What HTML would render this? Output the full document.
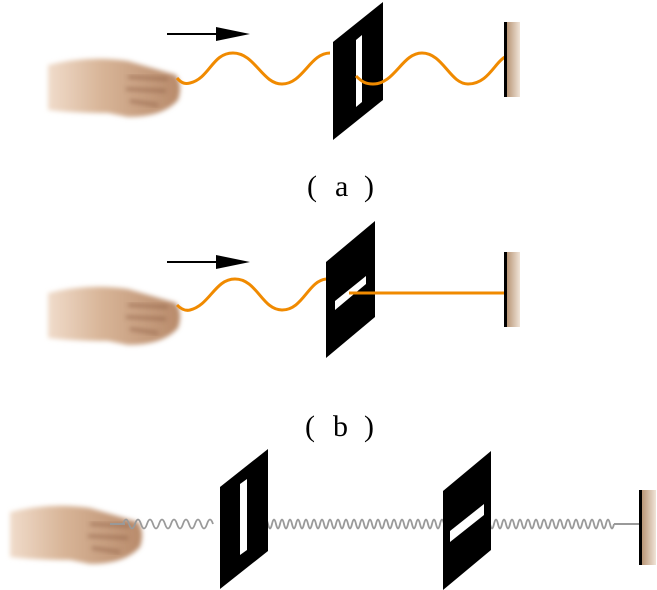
<!DOCTYPE html>
<html><head><meta charset="utf-8"><style>
html,body{margin:0;padding:0;background:#fff;width:657px;height:590px;overflow:hidden}
svg{display:block}
text{font-family:"Liberation Serif",serif}
</style></head><body>
<svg width="657" height="590" viewBox="0 0 657 590">
<defs>
<linearGradient id="wall" x1="0" x2="1"><stop offset="0" stop-color="#b08a68"/><stop offset="1" stop-color="#f0e4d8"/></linearGradient>
<linearGradient id="hand" x1="0" x2="1"><stop offset="0" stop-color="#f0dccb"/><stop offset="0.4" stop-color="#d8b598"/><stop offset="1" stop-color="#b88a6a"/></linearGradient>
<filter id="bl"><feGaussianBlur stdDeviation="2.5"/></filter>
<g id="handg">
<path d="M0,10 Q40,0 80,6 L128,20 Q135,30 130,45 Q115,62 80,62 L60,58 Q25,58 0,55 Z" fill="url(#hand)" filter="url(#bl)"/>
<path d="M80,22 L120,24 M78,34 L118,36 M82,46 L110,50" stroke="#8a5a40" stroke-width="3" opacity="0.6" filter="url(#bl)"/>
</g>
</defs>

<!-- panel a -->
<use href="#handg" x="48" y="55"/>
<line x1="167" y1="34" x2="220" y2="34" stroke="#000" stroke-width="2"/>
<polygon points="216,27 250,34 216,41" fill="#000"/>
<path d="M177,78 C182,84 186,84 190,83 C210,78 212,53 233,53 C255,53 262,84 282,84 C303,84 310,53 330,53" fill="none" stroke="#f08a00" stroke-width="3"/>
<polygon points="333,42 383,2 383,100 333,140" fill="#000"/>
<polygon points="356,40 362,35 362,102 356,107" fill="#fff"/>
<path d="M356,76 C362,82 366,84 373,84 C395,84 402,53 422,53 C443,53 450,84 468,84 C488,84 495,62 505,57" fill="none" stroke="#f08a00" stroke-width="3"/>
<rect x="505" y="22" width="15" height="75" fill="url(#wall)"/>
<rect x="504" y="22" width="3" height="75" fill="#000"/>
<g font-size="30"><text x="307" y="196">(</text><text x="335" y="196">a</text><text x="364" y="196">)</text></g>

<!-- panel b -->
<use href="#handg" x="48" y="283"/>
<line x1="167" y1="262" x2="220" y2="262" stroke="#000" stroke-width="2"/>
<polygon points="216,255 250,262 216,269" fill="#000"/>
<path d="M177,305 C182,310 186,311 190,310 C210,305 215,279 235,279 C257,279 262,310 282,310 C303,310 308,281 326,279" fill="none" stroke="#f08a00" stroke-width="3"/>
<polygon points="326,262 375,221 375,317 326,358" fill="#000"/>
<polygon points="335,301 366,276 366,284 335,310" fill="#fff"/>
<line x1="349" y1="293" x2="505" y2="293" stroke="#f08a00" stroke-width="3"/>
<rect x="505" y="252" width="15" height="75" fill="url(#wall)"/>
<rect x="504" y="252" width="3" height="75" fill="#000"/>
<g font-size="30"><text x="305" y="436">(</text><text x="333" y="436">b</text><text x="364" y="436">)</text></g>

<!-- panel c -->
<use href="#handg" x="10" y="502"/>
<line x1="110" y1="524" x2="125" y2="524" stroke="#999" stroke-width="2"/>
<g stroke="#9a9a9a" stroke-width="1.8" fill="none">
<path d="M123,524 q3,-9 6,0 t6,0 t6,0 t6,0 t6,0 t6,0 t6,0 t6,0 t6,0 t6,0 t6,0 t6,0 t6,0 t6,0 t6,0"/>
<path d="M248,524 q2,-9 4,0 t4,0 t4,0 t4,0 t4,0 t4,0 t4,0 t4,0 t4,0 t4,0 t4,0 t4,0 t4,0 t4,0 t4,0 t4,0 t4,0 t4,0 t4,0 t4,0 t4,0 t4,0 t4,0 t4,0 t4,0 t4,0 t4,0 t4,0 t4,0 t4,0 t4,0 t4,0 t4,0 t4,0 t4,0 t4,0 t4,0 t4,0 t4,0 t4,0 t4,0 t4,0 t4,0 t4,0 t4,0 t4,0 t4,0 t4,0 t4,0 t4,0"/>
<path d="M462,524 q2,-9 4,0 t4,0 t4,0 t4,0 t4,0 t4,0 t4,0 t4,0 t4,0 t4,0 t4,0 t4,0 t4,0 t4,0 t4,0 t4,0 t4,0 t4,0 t4,0 t4,0 t4,0 t4,0 t4,0 t4,0 t4,0 t4,0 t4,0 t4,0 t4,0 t4,0 t4,0 t4,0 t4,0 t4,0 t4,0 t4,0 t4,0 t4,0"/>
</g>
<line x1="614" y1="524" x2="640" y2="524" stroke="#999" stroke-width="2"/>
<polygon points="220,487 268,449 268,551 220,589" fill="#000"/>
<polygon points="240,484 247,479 247,550 240,555" fill="#fff"/>
<polygon points="443,491 491,451 491,550 443,590" fill="#000"/>
<polygon points="450,531 484,504 484,515 450,542" fill="#fff"/>
<rect x="640" y="490" width="16" height="75" fill="url(#wall)"/>
<rect x="639" y="490" width="3" height="75" fill="#000"/>
</svg>
</body></html>
